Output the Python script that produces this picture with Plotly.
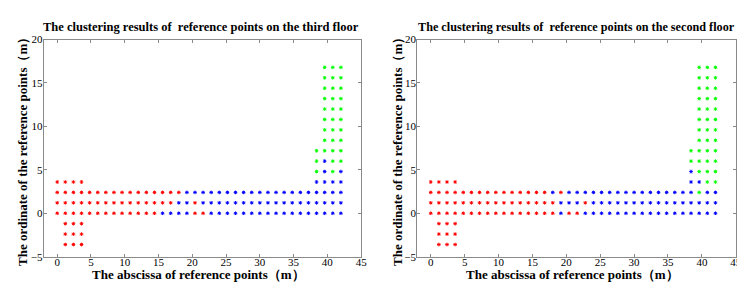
import plotly.graph_objects as go

# Grid coordinates of the reference points (m)
x_coords = [0, 1.2, 2.4, 3.6, 4.8, 6.0, 7.2, 8.4, 9.6, 10.8, 12.0, 13.2,
            14.4, 15.6, 16.8, 18.0, 19.2, 20.4, 21.6, 22.8, 24.0, 25.2, 26.4,
            27.6, 28.8, 30.0, 31.2, 32.4, 33.6, 34.8, 36.0, 37.2, 38.4, 39.6,
            40.8, 42.0]
y_coords = [16.8, 15.6, 14.4, 13.2, 12.0, 10.8, 9.6, 8.4, 7.2, 6.0, 4.8,
            3.6, 2.4, 1.2, 0.0, -1.2, -2.4, -3.6]

# Cluster label of each grid cell (R=red, B=blue, G=green, .=no point); rows top->bottom
third_floor = [
    "." * 33 + "GGG",
    "." * 33 + "GGG",
    "." * 33 + "GGG",
    "." * 33 + "GGG",
    "." * 33 + "GGG",
    "." * 33 + "GGG",
    "." * 33 + "GGG",
    "." * 33 + "GGG",
    "." * 32 + "GGGG",
    "." * 32 + "GBGG",
    "." * 32 + "GBGB",
    "RRRR" + "." * 28 + "BBBB",
    "R" * 16 + "B" * 20,
    "R" * 15 + "BB" + "R" + "B" * 18,
    "R" * 13 + "BBBB" + "RR" + "B" * 17,
    ".RRR" + "." * 32,
    ".RRR" + "." * 32,
    ".RRR" + "." * 32,
]
second_floor = [
    "." * 33 + "GGG",
    "." * 33 + "GGG",
    "." * 33 + "GGG",
    "." * 33 + "GGG",
    "." * 33 + "GGG",
    "." * 33 + "GGG",
    "." * 33 + "GGG",
    "." * 33 + "GGG",
    "." * 32 + "GGGG",
    "." * 32 + "GGGG",
    "." * 32 + "BGGG",
    "RRRR" + "." * 28 + "BBGG",
    "R" * 15 + "B" + "R" + "B" * 16 + "G" + "BB",
    "R" * 16 + "BBB" + "R" + "B" * 16,
    "R" * 16 + "B" + "RR" + "B" * 17,
    ".RRR" + "." * 32,
    ".RRR" + "." * 32,
    ".RRR" + "." * 32,
]

titles = ["The clustering results of  reference points on the third floor",
          "The clustering results of  reference points on the second floor"]
x_title = "The abscissa of reference points（m）"
y_title = "The ordinate of the reference points（m）"
tick_vals = [0, 5, 10, 15, 20, 25, 30, 35, 40, 45]
ytick_vals = [-5, 0, 5, 10, 15, 20]

colors = {"R": "#ff0000", "B": "#0000ff", "G": "#00ff00"}

W, H = 745, 286
FONT = "Liberation Serif"

fig = go.Figure()

def add_floor(grid, xaxis, yaxis):
    for lab in ["R", "B", "G"]:
        xs, ys = [], []
        for r, row in enumerate(grid):
            for c, ch in enumerate(row):
                if ch == lab:
                    xs.append(x_coords[c])
                    ys.append(y_coords[r])
        fig.add_trace(go.Scatter(
            x=xs, y=ys, mode="markers", xaxis=xaxis, yaxis=yaxis,
            marker=dict(symbol="asterisk-open", size=3, color=colors[lab],
                        line=dict(width=1, color=colors[lab])),
            showlegend=False, hoverinfo="skip"))

add_floor(third_floor, "x", "y")
add_floor(second_floor, "x2", "y2")

# plot areas in pixels
panels = [(36, 356), (412.5, 733.7)]
top_px, bot_px = 26.7, 253.3

axis_common = dict(showgrid=False, zeroline=False, showline=True,
                   linecolor="#8a8a8a", linewidth=1, mirror="ticks",
                   ticks="inside", ticklen=3, tickcolor="#8a8a8a",
                   tickfont=dict(family=FONT, size=11, color="#000000"))

ydom = [1 - bot_px / H, 1 - top_px / H]
for k, (l, r) in enumerate(panels):
    sfx = "" if k == 0 else "2"
    fig.update_layout(**{
        "xaxis" + sfx: dict(axis_common, domain=[l / W, r / W], range=[-2, 45],
                            tickvals=tick_vals, anchor="y" + sfx,
                            ticklabelstandoff=-5),
        "yaxis" + sfx: dict(axis_common, domain=ydom, range=[-5, 20],
                            tickvals=ytick_vals, anchor="x" + sfx,
                            ticklabelstandoff=-2),
    })

annotations = []
title_cx = [195, 573]
title_sz = [12.5, 12.2]
xt_cx = [192, 569]
yt_cx = [14, 392]
for k in range(2):
    annotations.append(dict(text="<b>" + titles[k] + "</b>", x=title_cx[k] / W,
                            y=1 - 14 / H, xref="paper", yref="paper",
                            showarrow=False, xanchor="center", yanchor="middle",
                            font=dict(family=FONT, size=title_sz[k], color="#000000")))
    annotations.append(dict(text="<b>" + x_title + "</b>", x=xt_cx[k] / W,
                            y=1 - 272 / H, xref="paper", yref="paper",
                            showarrow=False, xanchor="center", yanchor="middle",
                            font=dict(family=FONT, size=13, color="#000000")))
    annotations.append(dict(text="<b>" + y_title + "</b>", x=yt_cx[k] / W,
                            y=1 - 140 / H, xref="paper", yref="paper",
                            showarrow=False, xanchor="center", yanchor="middle",
                            textangle=-90,
                            font=dict(family=FONT, size=13, color="#000000")))

fig.update_layout(width=W, height=H, margin=dict(l=0, r=0, t=0, b=0),
                  paper_bgcolor="white", plot_bgcolor="white",
                  annotations=annotations, showlegend=False)

fig.write_html("out.html", config={"displayModeBar": False})
